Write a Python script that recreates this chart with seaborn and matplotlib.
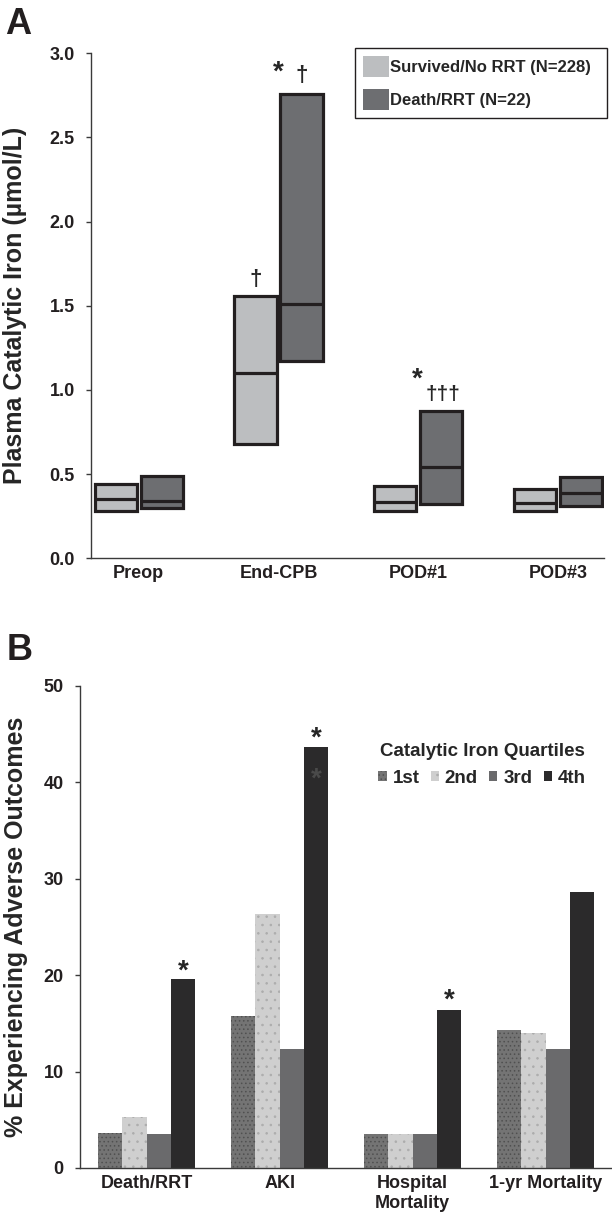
import numpy as np
import pandas as pd
import seaborn as sns
import matplotlib.pyplot as plt
from matplotlib.patches import Patch

# Panel A: catalytic iron, interquartile boxes (Q1, median, Q3)
times = ["Preop", "End-CPB", "POD#1", "POD#3"]
groups = ["Survived/No RRT (N=228)", "Death/RRT (N=22)"]
surv_q1 = [0.28, 0.68, 0.28, 0.28]
surv_med = [0.35, 1.10, 0.335, 0.33]
surv_q3 = [0.44, 1.56, 0.43, 0.41]
death_q1 = [0.30, 1.17, 0.325, 0.31]
death_med = [0.34, 1.51, 0.54, 0.39]
death_q3 = [0.49, 2.76, 0.875, 0.485]

# Panel B: % adverse outcomes by catalytic iron quartile
outcomes = ["Death/RRT", "AKI", "Hospital\nMortality", "1-yr Mortality"]
quartiles = ["1st", "2nd", "3rd", "4th"]
q1st = [3.6, 15.8, 3.5, 14.3]
q2nd = [5.3, 26.3, 3.5, 14.0]
q3rd = [3.5, 12.3, 3.5, 12.3]
q4th = [19.6, 43.6, 16.4, 28.6]

box_colors = ["#bcbec0", "#6d6e71"]
bar_colors = ["#747474", "#cfcfcf", "#6a6a6c", "#2b2a2b"]
hatch_colors = ["#505050", "#acacac", "#6a6a6c", "#2b2a2b"]
hatches = ["....", "..", "", ""]
ink = "#231f20"

sns.set_theme(style="ticks")
plt.rcParams["font.family"] = ["Liberation Sans", "DejaVu Sans"]
plt.rcParams["font.weight"] = "bold"
plt.rcParams["hatch.linewidth"] = 0.6

# five-point samples whose quartiles equal the published Q1/median/Q3
rows = []
for i, t in enumerate(times):
    for g, (lo, md, hi) in zip(groups, [(surv_q1, surv_med, surv_q3),
                                        (death_q1, death_med, death_q3)]):
        for v in [lo[i], lo[i], md[i], hi[i], hi[i]]:
            rows.append({"time": t, "group": g, "value": v})
iron = pd.DataFrame(rows)

rows = []
for q, vals in zip(quartiles, [q1st, q2nd, q3rd, q4th]):
    for o, v in zip(outcomes, vals):
        rows.append({"outcome": o, "quartile": q, "pct": v})
adverse = pd.DataFrame(rows)

fig = plt.figure(figsize=(6.12, 12.19), dpi=100)
W, H = 612, 1219
ax1 = fig.add_axes([90.7 / W, 1 - 558.3 / H, 513.3 / W, 505 / H])
ax2 = fig.add_axes([79.5 / W, 1 - 1168 / H, 532.5 / W, 482.3 / H])

""" (A) boxes """
sns.boxplot(data=iron, x="time", y="value", hue="group", order=times,
            hue_order=groups, palette=box_colors, saturation=1,
            width=0.66, gap=0.08, whis=0, showcaps=False, fliersize=0,
            linewidth=2.3, linecolor=ink, legend=False, ax=ax1)
ax1.set_xlim(-0.344, 3.33)
ax1.set_ylim(0, 3.0)
ax1.set_yticks(np.arange(0, 3.01, 0.5))
ax1.set_yticklabels([f"{v:.1f}" for v in np.arange(0, 3.01, 0.5)])
ax1.set_xlabel("")
ax1.set_ylabel("Plasma Catalytic Iron (µmol/L)", fontsize=18, fontweight="bold")
ax1.yaxis.set_label_coords(-0.124, 0.5)

ax1.legend([Patch(facecolor=c, edgecolor="none") for c in box_colors], groups,
           loc="upper left", bbox_to_anchor=(355 / W, 1 - 127.3 / H, 251.7 / W, 79 / H),
           mode="expand", bbox_transform=fig.transFigure, borderaxespad=0,
           frameon=True, fancybox=False, edgecolor=ink, framealpha=1,
           borderpad=0.45, handlelength=1.56, handleheight=1.56,
           handletextpad=0.1, labelspacing=0.75, prop=dict(weight="bold", size=12))

# significance marks
ax1.text(1.0, 2.845, "*", ha="center", va="baseline", fontsize=20, fontweight="bold")
ax1.text(1.165, 2.868, "†", ha="center", va="center", fontsize=16, fontweight="bold")
ax1.text(0.835, 1.659, "†", ha="center", va="center", fontsize=16, fontweight="bold")
ax1.text(1.99, 1.02, "*", ha="center", va="baseline", fontsize=20, fontweight="bold")
ax1.text(2.175, 0.971, "†††", ha="center", va="center", fontsize=15, fontweight="bold")

""" (B) bars """
sns.barplot(data=adverse, x="outcome", y="pct", hue="quartile", order=outcomes,
            hue_order=quartiles, palette=bar_colors, saturation=1, width=0.727,
            errorbar=None, linewidth=0, legend=False, ax=ax2)
for cont, h, hc in zip(ax2.containers, hatches, hatch_colors):
    for bar in cont:
        bar.set_hatch(h)
        bar.set_edgecolor(hc)
        bar.set_linewidth(0)
ax2.set_xlim(-0.505, 3.5)
ax2.set_ylim(0, 50)
ax2.set_yticks(range(0, 51, 10))
ax2.set_xlabel("")
ax2.set_ylabel("% Experiencing Adverse Outcomes", fontsize=18, fontweight="bold")
ax2.yaxis.set_label_coords(-0.097, 0.5)

off4 = 1.5 * 0.727 / 4
ax2.text(0 + off4, 19.6, "*", ha="center", va="baseline", fontsize=20, fontweight="bold")
ax2.text(1 + off4, 43.8, "*", ha="center", va="baseline", fontsize=20, fontweight="bold")
ax2.text(1 + off4, 39.5, "*", ha="center", va="baseline", fontsize=20,
         fontweight="bold", color="#4a4a4a")
ax2.text(2 + off4, 16.6, "*", ha="center", va="baseline", fontsize=20, fontweight="bold")

qh = [Patch(facecolor=c, edgecolor=hc, hatch=h, linewidth=0)
      for c, hc, h in zip(bar_colors, hatch_colors, hatches)]
ax2.legend(qh, quartiles, ncol=4, title="Catalytic Iron Quartiles",
           loc="upper center", bbox_to_anchor=(482 / W, 1 - 734 / H),
           bbox_transform=fig.transFigure, frameon=False, borderpad=0,
           handlelength=0.43, handleheight=0.43, handletextpad=0.32,
           columnspacing=0.6, prop=dict(weight="bold", size=13.5),
           title_fontproperties=dict(weight="bold", size=13.5))

for ax in (ax1, ax2):
    sns.despine(ax=ax)
    for s in ("left", "bottom"):
        ax.spines[s].set_color("#3a3a3a")
        ax.spines[s].set_linewidth(1.0)
    ax.tick_params(axis="y", direction="out", length=3.5, width=1.0,
                   color="#3a3a3a", pad=8, labelsize=13, labelcolor=ink)
    ax.tick_params(axis="x", length=0, pad=5, labelsize=13, labelcolor=ink)
    for lab in ax.get_xticklabels() + ax.get_yticklabels():
        lab.set_fontweight("bold")

fig.text(5 / W, 1 - 34 / H, "A", fontsize=26, fontweight="bold", color=ink)
fig.text(7 / W, 1 - 660 / H, "B", fontsize=26, fontweight="bold", color=ink)

plt.savefig("out.png", dpi=100)
